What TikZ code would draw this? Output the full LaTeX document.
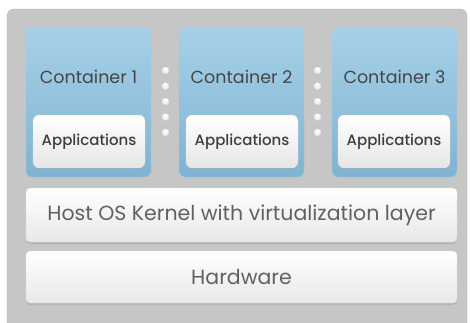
\documentclass[tikz,border=0pt]{standalone}
\usepackage{fontspec}
\setmainfont{Poppins}
\newfontfamily\appfont{Poppins}[UprightFont=* Medium]
\usetikzlibrary{shadows}

\definecolor{panelgray}{HTML}{C6C6C6}
\definecolor{paneledge}{HTML}{B4B4B4}
\definecolor{boxtop}{HTML}{A6D1E8}
\definecolor{boxbot}{HTML}{80B3D2}
\definecolor{inktext}{HTML}{454545}

\begin{document}
\begin{tikzpicture}[x=1pt,y=-1pt,
	container/.style={inner sep=0pt,
		minimum width=125pt,
		minimum height=150pt,
		rounded corners=6pt,
		top color=boxtop,
		bottom color=boxbot,
		draw=boxbot!90!black!60},
	appbox/.style={inner sep=0pt,
		minimum width=112pt,
		minimum height=53pt,
		rounded corners=6pt,
		top color=white,
		bottom color=black!10,
		draw=black!12,
		drop shadow={shadow xshift=0pt,shadow yshift=-1pt,opacity=0.25},
		text=inktext!90!black,
		font=\appfont\fontsize{15}{17}\selectfont},
	layer/.style={inner sep=0pt,
		minimum width=431pt,
		rounded corners=4pt,
		top color=white,
		bottom color=black!9,
		draw=black!12,
		drop shadow={shadow xshift=0pt,shadow yshift=-2pt,opacity=0.25},
		text=inktext!85,
		font=\fontsize{20.5}{22}\selectfont},
	label/.style={text=inktext,font=\fontsize{17.5}{19}\selectfont},
	sepdot/.style={circle,inner sep=0pt,minimum size=7pt,
		top color=white,bottom color=black!8,draw=black!15}]
	\useasboundingbox (0,0) rectangle (470,322);
	% outer panel
	\draw[fill=panelgray,draw=paneledge,rounded corners=7pt] (7,9) rectangle (467,340);

	% containers
	\node[container] (c1) at (88.5,102) {};
	\node[label] (l1) at (88.5,77) {Container 1};
	\node[appbox] (a1) at (89,141.5) {Applications};

	\node[container] (c2) at (241.5,102) {};
	\node[label] (l2) at (241.5,77) {Container 2};
	\node[appbox] (a2) at (242,141.5) {Applications};

	\node[container] (c3) at (394.5,102) {};
	\node[label] (l3) at (394.5,77) {Container 3};
	\node[appbox] (a3) at (394,141.5) {Applications};

	% separators
	\foreach \y in {70.5,86,101.5,117,132.5} {
		\node[sepdot] at (165.5,\y) {};
		\node[sepdot] at (317.5,\y) {};
	}

	% host layers
	\node[layer,minimum height=54pt] (kernel) at (241.5,215) {Host OS Kernel with virtualization layer};
	\node[layer,minimum height=52pt] (hw) at (241.5,277) {Hardware};
\end{tikzpicture}
\end{document}
